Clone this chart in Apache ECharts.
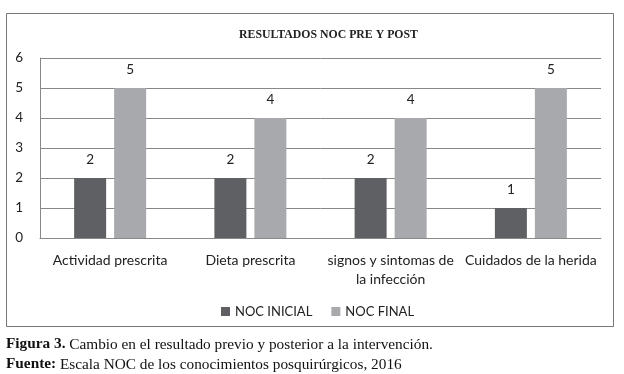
<!DOCTYPE html>
<html><head><meta charset="utf-8">
<script src="https://cdn.jsdelivr.net/npm/echarts@6/dist/echarts.min.js"></script>
<style>html,body{margin:0;padding:0;background:#fff}#c{width:624px;height:374px}</style>
</head><body><div id="c"></div>
<script>
var categories = ["Actividad prescrita", "Dieta prescrita", "signos y sintomas de\nla infección", "Cuidados de la herida"];
var nocInicial = [2, 2, 2, 1];
var nocFinal = [5, 4, 4, 5];
var seriesNames = ["NOC INICIAL", "NOC FINAL"];
var yTicks = [0, 1, 2, 3, 4, 5, 6];

var chart = echarts.init(document.getElementById('c'), null, {renderer: 'canvas'});
var lblFont = 'Lato, "Noto Sans", sans-serif';
chart.setOption({
  animation: false,
  backgroundColor: '#fff',
  title: {
    text: 'RESULTADOS NOC PRE Y POST',
    left: 234, top: 24,
    textStyle: {fontFamily: '"Liberation Serif", serif', fontSize: 11.8, fontWeight: 'bold', color: '#222'}
  },
  legend: {
    data: seriesNames, left: 221, top: 305, itemWidth: 9, itemHeight: 9, itemGap: 19,
    padding: 0,
    icon: 'rect', textStyle: {fontFamily: lblFont, fontSize: 13, color: '#222'}
  },
  grid: {left: 40, right: 23, top: 58, bottom: 136, containLabel: false},
  xAxis: {
    type: 'category', data: categories,
    axisLine: {show: true, lineStyle: {color: '#888'}},
    axisTick: {show: false},
    axisLabel: {fontFamily: lblFont, fontSize: 14, color: '#222', margin: 13, lineHeight: 19, interval: 0}
  },
  yAxis: {
    type: 'value', min: yTicks[0], max: yTicks[yTicks.length - 1], interval: 1,
    axisLine: {show: true, lineStyle: {color: '#888'}},
    axisTick: {show: false},
    splitLine: {lineStyle: {color: '#888'}},
    axisLabel: {fontFamily: lblFont, fontSize: 13.5, color: '#222', margin: 17}
  },
  series: [
    {name: seriesNames[0], type: 'bar', data: nocInicial, barWidth: 32, barGap: '25%',
     itemStyle: {color: '#5f6063'},
     label: {show: true, position: 'top', distance: 11, fontFamily: lblFont, fontSize: 13.5, color: '#222'}},
    {name: seriesNames[1], type: 'bar', data: nocFinal, barWidth: 32, barGap: '25%',
     itemStyle: {color: '#a7a9ac'},
     label: {show: true, position: 'top', distance: 11, fontFamily: lblFont, fontSize: 13.5, color: '#222'}}
  ],
  graphic: [
    {type: 'rect', shape: {x: 6.5, y: 13.5, width: 607, height: 313}, style: {fill: 'none', stroke: '#777', lineWidth: 1}, z: -1},
    {type: 'text', left: 6, top: 337, style: {
      text: '{b|Figura 3.} Cambio en el resultado previo y posterior a la intervención.',
      rich: {b: {fontWeight: 'bold', fontFamily: '"Liberation Serif", serif', fontSize: 15.3, fill: '#111'}},
      fontFamily: '"Liberation Serif", serif', fontSize: 15.3, fill: '#111'}},
    {type: 'text', left: 6, top: 357, style: {
      text: '{b|Fuente:} Escala NOC de los conocimientos posquirúrgicos, 2016',
      rich: {b: {fontWeight: 'bold', fontFamily: '"Liberation Serif", serif', fontSize: 15.3, fill: '#111'}},
      fontFamily: '"Liberation Serif", serif', fontSize: 15.3, fill: '#111'}}
  ]
});
</script></body></html>
